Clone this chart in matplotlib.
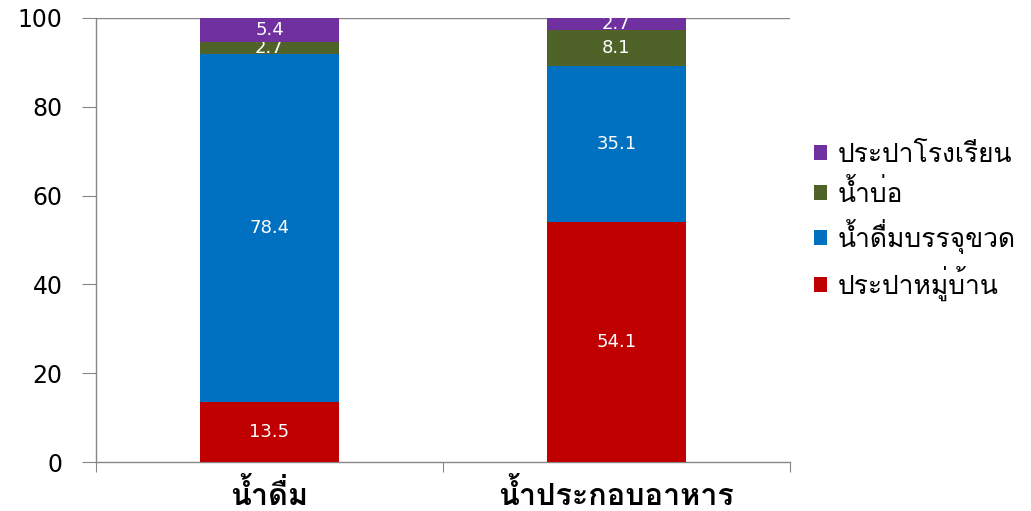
import matplotlib
matplotlib.use("Agg")
import matplotlib.pyplot as plt
import numpy as np

categories = ["น้ำดื่ม", "น้ำประกอบอาหาร"]
series_names = ["ประปาหมู่บ้าน", "น้ำดื่มบรรจุขวด", "น้ำบ่อ", "ประปาโรงเรียน"]
village_tap = [13.5, 54.1]
bottled = [78.4, 35.1]
well = [2.7, 8.1]
school_tap = [5.4, 2.7]
colors = ["#C00000", "#0070C0", "#4F6228", "#7030A0"]
yticks = [0, 20, 40, 60, 80, 100]

thai_font = ["Loma", "Noto Sans Thai Looped", "DejaVu Sans"]

fig = plt.figure(figsize=(10.31, 5.11), dpi=100)
ax = fig.add_axes([96/1031, 1-462/511, (790-96)/1031, (462-18)/511])

x = np.arange(len(categories))
bottom = np.zeros(len(categories))
handles = []
for name, vals, c in zip(series_names, [village_tap, bottled, well, school_tap], colors):
    bars = ax.bar(x, vals, 0.4, bottom=bottom, color=c, label=name, zorder=3)
    ax.bar_label(bars, labels=[f"{v:.1f}" for v in vals], label_type="center",
                 color="white", fontsize=13, family="DejaVu Sans")
    bottom += np.array(vals)
    handles.append(bars)

ax.set_xlim(-0.5, 1.5)
ax.set_ylim(0, 100)
ax.axhline(100, color="#868686", lw=1, zorder=1)

for s in ["top", "right"]:
    ax.spines[s].set_visible(False)
for s in ["left", "bottom"]:
    ax.spines[s].set_color("#868686")
    ax.spines[s].set_linewidth(1)

ax.set_yticks(yticks)
ax.set_yticklabels([str(t) for t in yticks], fontsize=17, family="DejaVu Sans")
ax.tick_params(axis="y", length=10, color="#868686", pad=14)

ax.set_xticks([-0.5, 0.5, 1.5])
ax.set_xticklabels([])
ax.tick_params(axis="x", which="major", length=7, color="#868686")
ax.set_xticks(x, minor=True)
ax.set_xticklabels(categories, minor=True, fontsize=22, fontweight="bold", family=thai_font)
ax.tick_params(axis="x", which="minor", length=0, pad=12)

leg = ax.legend(handles[::-1], series_names[::-1], loc="center left",
                bbox_to_anchor=(1.0, 0.54), frameon=False,
                prop={"family": thai_font, "size": 19},
                handlelength=0.5, handleheight=0.5, handletextpad=0.4,
                labelspacing=0.45)

fig.savefig("out.png", dpi=100)
